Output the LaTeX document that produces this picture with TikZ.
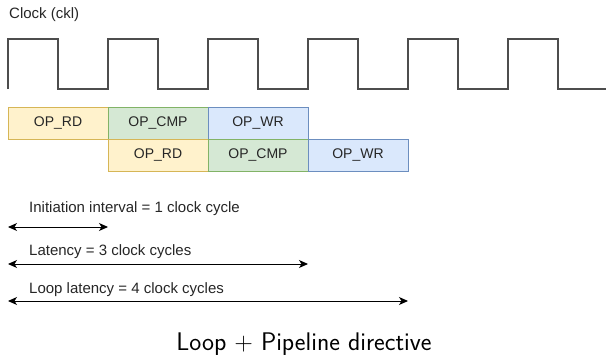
\documentclass[tikz,border=0pt]{standalone}
\usepackage{fontspec}
\setmainfont{Liberation Sans}
\usetikzlibrary{arrows.meta}
\definecolor{yfill}{HTML}{FFF2CC}
\definecolor{ydraw}{HTML}{D6B656}
\definecolor{gfill}{HTML}{D5E8D4}
\definecolor{gdraw}{HTML}{82B366}
\definecolor{bfill}{HTML}{DAE8FC}
\definecolor{bdraw}{HTML}{6C8EBF}
\definecolor{clk}{HTML}{4D4D4D}
\tikzset{
  opbox/.style={draw, line width=1pt, minimum width=100pt, minimum height=32pt, inner sep=0pt, font=\fontsize{14}{16}\selectfont, text=black!85},
  rd/.style={opbox, fill=yfill, draw=ydraw},
  cmp/.style={opbox, fill=gfill, draw=gdraw},
  wr/.style={opbox, fill=bfill, draw=bdraw},
  lbl/.style={anchor=west, inner sep=0pt, font=\fontsize{15}{17}\selectfont, text=black!85},
  span/.style={line width=1pt, {Stealth[length=9pt,width=8pt,inset=2.5pt]}-{Stealth[length=9pt,width=8pt,inset=2.5pt]}}
}
\begin{document}
\begin{tikzpicture}[x=1pt,y=-1pt]
\useasboundingbox (0,0) rectangle (606,356);
% clock
\node[lbl] (clklbl) at (9,15) {Clock (ckl)};
\draw[clk, line width=1.5pt, line join=miter]
  (8,89) -- (8,39) -- (58,39) -- (58,89) -- (108,89) -- (108,39) -- (158,39) -- (158,89)
  -- (208,89) -- (208,39) -- (258,39) -- (258,89) -- (308,89) -- (308,39) -- (358,39) -- (358,89)
  -- (408,89) -- (408,39) -- (458,39) -- (458,89) -- (508,89) -- (508,39) -- (558,39) -- (558,89) -- (606,89);
% stages
\node[rd]  (rd1)  at (58,123)  {OP\_RD};
\node[cmp] (cmp1) at (158,123) {OP\_CMP};
\node[wr]  (wr1)  at (258,123) {OP\_WR};
\node[rd]  (rd2)  at (158,155) {OP\_RD};
\node[cmp] (cmp2) at (258,155) {OP\_CMP};
\node[wr]  (wr2)  at (358,155) {OP\_WR};
% spans
\node[lbl] (iil) at (29,209) {Initiation interval = 1 clock cycle};
\coordinate (ii0) at (8,227);
\coordinate (ii1) at (108,227);
\draw[span] (ii0) -- (ii1);
\node[lbl] (latl) at (29,252) {Latency = 3 clock cycles};
\coordinate (la0) at (8,264);
\coordinate (la1) at (308,264);
\draw[span] (la0) -- (la1);
\node[lbl] (lll) at (29,290) {Loop latency = 4 clock cycles};
\coordinate (ll0) at (8,301);
\coordinate (ll1) at (408,301);
\draw[span] (ll0) -- (ll1);
% caption
\node[font=\fontsize{25.5}{28}\sffamily, inner sep=0pt, anchor=base] (cap) at (304,350.5) {Loop + Pipeline directive};
\end{tikzpicture}
\end{document}
